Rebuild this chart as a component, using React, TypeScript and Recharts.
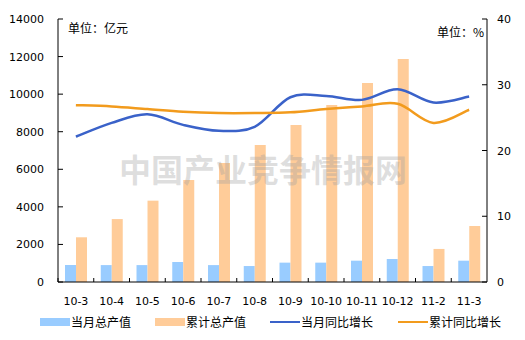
import React from 'react';
import { ComposedChart, Bar, Line, XAxis, YAxis, Legend } from 'recharts';

const categories = ['10-3', '10-4', '10-5', '10-6', '10-7', '10-8', '10-9', '10-10', '10-11', '10-12', '11-2', '11-3'];
const monthOutput = [905, 900, 900, 1065, 900, 850, 1030, 1030, 1135, 1225, 850, 1135];
const cumOutput = [2380, 3350, 4330, 5430, 6330, 7290, 8360, 9420, 10590, 11870, 1760, 2980];
const monthGrowth = [22.1, 24.2, 25.5, 23.9, 23.0, 23.6, 28.1, 28.3, 27.7, 29.3, 27.3, 28.2];
const cumGrowth = [26.9, 26.7, 26.3, 25.9, 25.7, 25.7, 25.8, 26.3, 26.7, 27.1, 24.2, 26.2];
const leftTicks = [0, 2000, 4000, 6000, 8000, 10000, 12000, 14000];
const rightTicks = [0, 10, 20, 30, 40];

const data = categories.map((c, i) => ({
  name: c,
  monthOutput: monthOutput[i],
  cumOutput: cumOutput[i],
  monthGrowth: monthGrowth[i],
  cumGrowth: cumGrowth[i],
}));

const FONT = '"DejaVu Sans", sans-serif';
const CJK = '"Noto Sans CJK SC", sans-serif';
const BLUE_BAR = '#99CCFF';
const ORANGE_BAR = '#FFCC99';
const BLUE_LINE = '#3A62C9';
const ORANGE_LINE = '#F29B1D';
const PLOT_BOTTOM = 282;
const BAND = (487 - 58) / 12;

// Catmull-Rom style smoothing similar to spreadsheet smoothed lines
const smoothCurve: any = (context: any) => {
  let pts: number[][] = [];
  return {
    areaStart() {},
    areaEnd() {},
    lineStart() {
      pts = [];
    },
    lineEnd() {
      if (!pts.length) return;
      context.moveTo(pts[0][0], pts[0][1]);
      for (let i = 0; i < pts.length - 1; i++) {
        const p0 = pts[i - 1] || pts[i];
        const p1 = pts[i];
        const p2 = pts[i + 1];
        const p3 = pts[i + 2] || p2;
        const c1x = p1[0] + (p2[0] - p0[0]) / 6;
        const c1y = p1[1] + (p2[1] - p0[1]) / 6;
        const c2x = p2[0] - (p3[0] - p1[0]) / 6;
        const c2y = p2[1] - (p3[1] - p1[1]) / 6;
        context.bezierCurveTo(c1x, c1y, c2x, c2y, p2[0], p2[1]);
      }
    },
    point(x: number, y: number) {
      pts.push([+x, +y]);
    },
  };
};

const XTick = (props: any) => {
  const { x, payload } = props;
  return (
    <g>
      <line x1={x - BAND / 2} x2={x - BAND / 2} y1={PLOT_BOTTOM} y2={PLOT_BOTTOM - 4} stroke="#000" />
      <text x={x} y={PLOT_BOTTOM + 23} textAnchor="middle" fontFamily={FONT} fontSize={11} fill="#000">
        {payload.value}
      </text>
    </g>
  );
};

const LeftTick = (props: any) => {
  const { x, y, payload } = props;
  return (
    <g>
      <line x1={x} x2={x + 5} y1={y} y2={y} stroke="#000" />
      <text x={x - 14} y={y + 4} textAnchor="end" fontFamily={FONT} fontSize={11} fill="#000">
        {payload.value}
      </text>
    </g>
  );
};

const RightTick = (props: any) => {
  const { x, y, payload } = props;
  return (
    <g>
      <line x1={x} x2={x - 5} y1={y} y2={y} stroke="#000" />
      <text x={x + 10} y={y + 4} textAnchor="start" fontFamily={FONT} fontSize={11} fill="#000">
        {payload.value}
      </text>
    </g>
  );
};

const legendItems = [
  { label: '当月总产值', color: BLUE_BAR, type: 'rect', x: 40 },
  { label: '累计总产值', color: ORANGE_BAR, type: 'rect', x: 155 },
  { label: '当月同比增长', color: BLUE_LINE, type: 'line', x: 270 },
  { label: '累计同比增长', color: ORANGE_LINE, type: 'line', x: 398 },
];

const LegendContent = () => (
  <div style={{ position: 'relative', width: 525, height: 20 }}>
    {legendItems.map((it) => (
      <div key={it.label} style={{ position: 'absolute', left: it.x, top: 0, height: 20, display: 'flex', alignItems: 'center' }}>
        <div
          style={{
            width: 30,
            height: it.type === 'rect' ? 8 : 2,
            background: it.color,
          }}
        />
        <span style={{ fontFamily: CJK, fontSize: 12, color: '#000', marginLeft: 1, lineHeight: '20px' }}>{it.label}</span>
      </div>
    ))}
  </div>
);

export default function App() {
  return (
    <div style={{ position: 'absolute', left: 0, top: 0, width: 525, height: 340, background: '#fff' }}>
      <ComposedChart
        width={525}
        height={340}
        data={data}
        margin={{ top: 19, right: 8, bottom: 10, left: 8 }}
        barGap={0}
        barSize={11}
      >
        <XAxis
          dataKey="name"
          xAxisId="x"
          height={28}
          tickLine={false}
          tickSize={0}
          tickMargin={0}
          tick={<XTick />}
          interval={0}
          axisLine={{ stroke: '#000' }}
        />
        <YAxis
          yAxisId="left"
          orientation="left"
          width={50}
          domain={[0, 14000]}
          ticks={leftTicks}
          tickLine={false}
          tickSize={0}
          tickMargin={0}
          tick={<LeftTick />}
          axisLine={{ stroke: '#000' }}
          interval={0}
        />
        <YAxis
          yAxisId="right"
          orientation="right"
          width={30}
          domain={[0, 40]}
          ticks={rightTicks}
          tickLine={false}
          tickSize={0}
          tickMargin={0}
          tick={<RightTick />}
          axisLine={{ stroke: '#000' }}
          interval={0}
        />
        <Bar xAxisId="x" yAxisId="left" dataKey="monthOutput" name="当月总产值" fill={BLUE_BAR} isAnimationActive={false} />
        <Bar xAxisId="x" yAxisId="left" dataKey="cumOutput" name="累计总产值" fill={ORANGE_BAR} isAnimationActive={false} />
        <Line
          xAxisId="x"
          yAxisId="right"
          type={smoothCurve}
          dataKey="monthGrowth"
          name="当月同比增长"
          stroke={BLUE_LINE}
          strokeWidth={2.5}
          dot={false}
          isAnimationActive={false}
        />
        <Line
          xAxisId="x"
          yAxisId="right"
          type={smoothCurve}
          dataKey="cumGrowth"
          name="累计同比增长"
          stroke={ORANGE_LINE}
          strokeWidth={2.5}
          dot={false}
          isAnimationActive={false}
        />
        <Legend
          verticalAlign="bottom"
          content={<LegendContent />}
          wrapperStyle={{ position: 'absolute', left: 0, top: 312, width: 525, height: 20 }}
        />
      </ComposedChart>
      <div
        style={{
          position: 'absolute',
          left: 68,
          top: 19,
          fontFamily: CJK,
          fontSize: 12,
          color: '#000',
          lineHeight: '18px',
        }}
      >
        单位：亿元
      </div>
      <div
        style={{
          position: 'absolute',
          right: 525 - 484,
          top: 23,
          fontFamily: CJK,
          fontSize: 12,
          color: '#000',
          lineHeight: '18px',
          background: '#fff',
        }}
      >
        单位：%
      </div>
      <div
        style={{
          position: 'absolute',
          left: 118,
          top: 148,
          width: 290,
          textAlign: 'center',
          fontFamily: CJK,
          fontSize: 32,
          fontWeight: 700,
          color: 'rgba(160,160,160,0.35)',
          letterSpacing: 0,
          lineHeight: '40px',
          whiteSpace: 'nowrap',
          pointerEvents: 'none',
        }}
      >
        中国产业竞争情报网
      </div>
    </div>
  );
}
